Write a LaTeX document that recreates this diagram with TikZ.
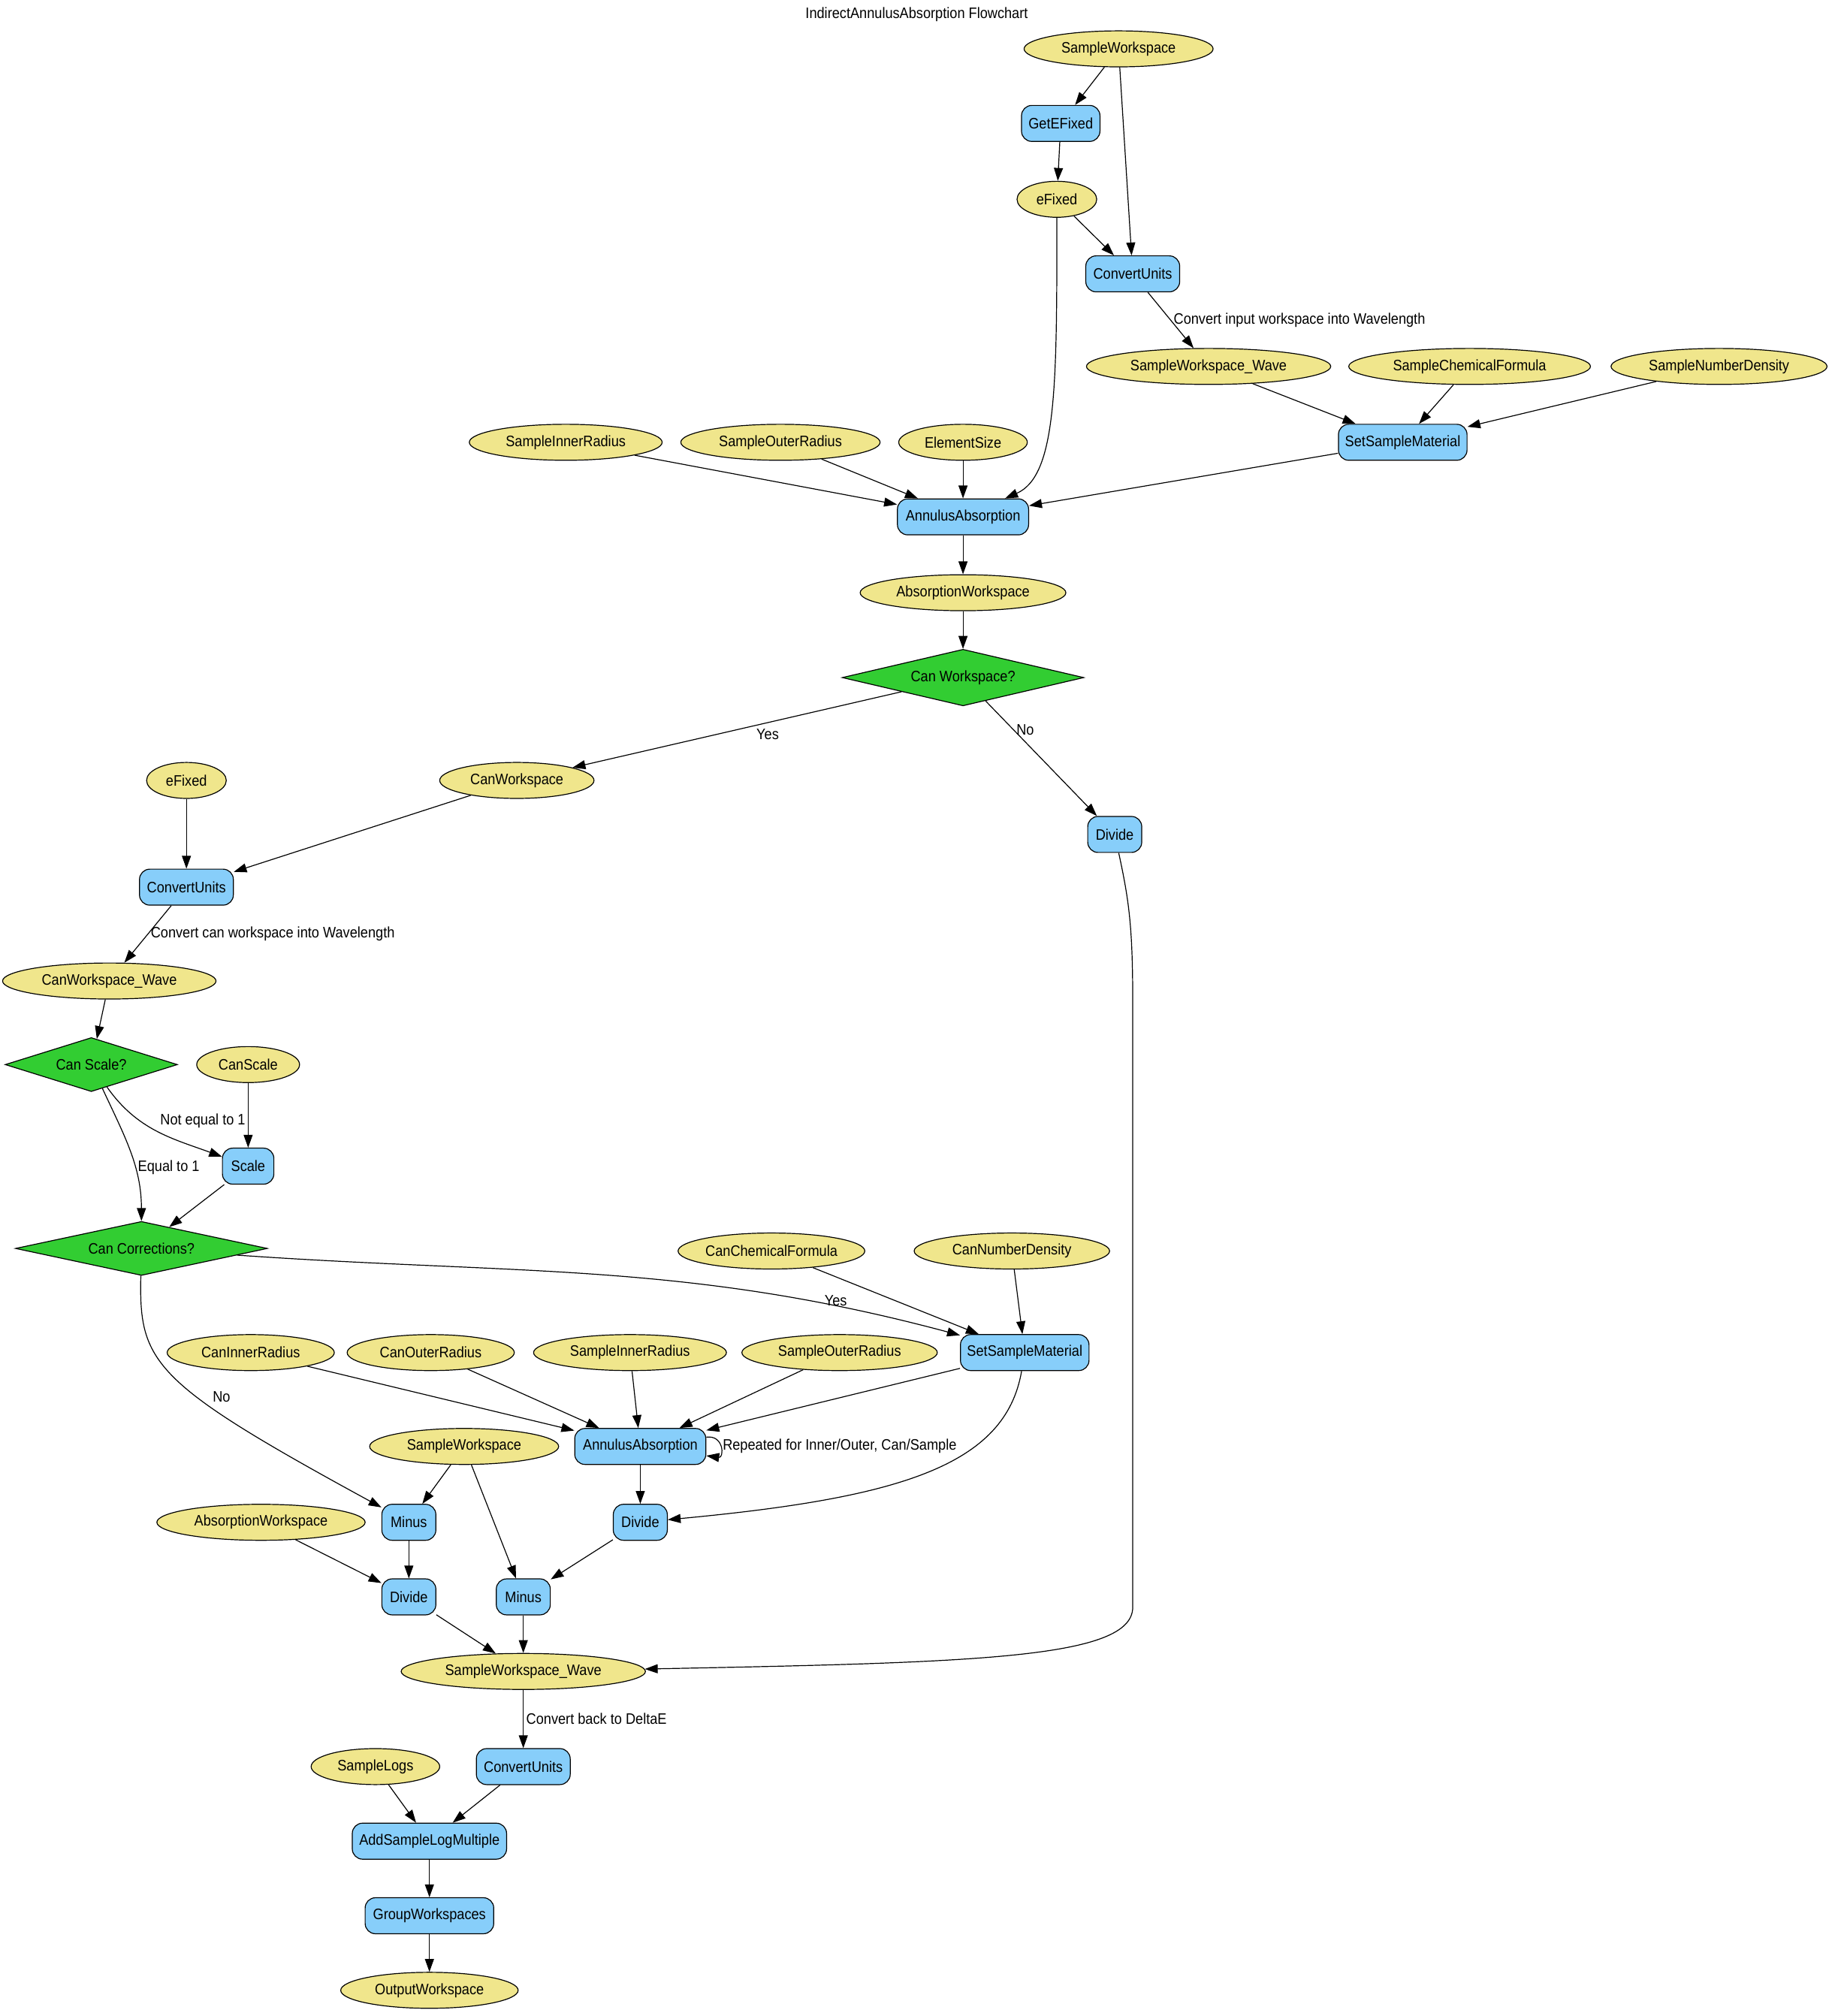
\documentclass[tikz,border=0pt]{standalone}
\usepackage{fontspec}
\setmainfont{Liberation Sans}[FakeStretch=0.9]
\usepackage{xcolor}
\usepackage{tikz}
\usetikzlibrary{arrows.meta,shapes.geometric}

\definecolor{propyellow}{HTML}{F0E68C}
\definecolor{algblue}{HTML}{87CEFA}
\definecolor{decgreen}{HTML}{32CD32}

\begin{document}
\begin{tikzpicture}
[x = 1pt, y = 1pt,
 every node/.style = {font = \fontsize{11.8}{13}\selectfont},
 prop/.style = {ellipse, draw, fill = propyellow, minimum height = 28pt, inner sep = 0pt},
 alg/.style = {rectangle, rounded corners = 8pt, draw, fill = algblue, minimum height = 28pt, inner sep = 0pt},
 decision/.style = {diamond, draw, fill = decgreen, inner sep = 0pt, aspect = 4},
 lbl/.style = {inner sep = 2pt},
 every path/.style = {line width = 0.7pt},
 >={Triangle[length = 10pt, width = 7pt]}]

\useasboundingbox (0,0) rectangle (1427,-1568);

\node (T) at (713,-11) {IndirectAnnulusAbsorption Flowchart};

\node[prop, minimum width = 147pt] (SW1) at (870,-38) {SampleWorkspace};
\node[alg, minimum width = 61pt] (GEF) at (825,-96) {GetEFixed};
\node[prop, minimum width = 62pt] (EF1) at (822,-155) {eFixed};
\node[alg, minimum width = 73pt] (CU1) at (881,-213) {ConvertUnits};
\node[prop, minimum width = 190pt] (SWW1) at (940,-285) {SampleWorkspace\_Wave};
\node[prop, minimum width = 188pt] (SCF) at (1143,-285) {SampleChemicalFormula};
\node[prop, minimum width = 168pt] (SND) at (1337,-285) {SampleNumberDensity};
\node[alg, minimum width = 100pt] (SSM1) at (1091,-344) {SetSampleMaterial};
\node[prop, minimum width = 150pt] (SIR1) at (440,-344) {SampleInnerRadius};
\node[prop, minimum width = 155pt] (SOR1) at (607,-344) {SampleOuterRadius};
\node[prop, minimum width = 100pt] (ES) at (749,-344) {ElementSize};
\node[alg, minimum width = 102pt] (AA1) at (749,-402) {AnnulusAbsorption};
\node[prop, minimum width = 160pt] (ABS1) at (749,-461) {AbsorptionWorkspace};
\node[decision, minimum width = 188pt, minimum height = 44pt] (CWQ) at (749,-527) {Can Workspace?};
\node[prop, minimum width = 120pt] (CW) at (402,-607) {CanWorkspace};
\node[alg, minimum width = 42pt] (DIV1) at (867,-649) {Divide};
\node[prop, minimum width = 62pt] (EF2) at (145,-607) {eFixed};
\node[alg, minimum width = 73pt] (CU2) at (145,-690) {ConvertUnits};
\node[prop, minimum width = 166pt] (CWW) at (85,-763) {CanWorkspace\_Wave};
\node[decision, minimum width = 134pt, minimum height = 42pt] (CSQ) at (71,-828) {Can Scale?};
\node[prop, minimum width = 80pt] (CS) at (193,-828) {CanScale};
\node[alg, minimum width = 40pt] (SC) at (193,-907) {Scale};
\node[decision, minimum width = 196pt, minimum height = 42pt] (CCQ) at (110,-971) {Can Corrections?};
\node[prop, minimum width = 132pt] (CCF) at (600,-973) {CanChemicalFormula};
\node[prop, minimum width = 152pt] (CND) at (787,-973) {CanNumberDensity};
\node[alg, minimum width = 100pt] (SSM2) at (797,-1052) {SetSampleMaterial};
\node[prop, minimum width = 130pt] (CIR) at (195,-1052) {CanInnerRadius};
\node[prop, minimum width = 130pt] (COR) at (335,-1052) {CanOuterRadius};
\node[prop, minimum width = 150pt] (SIR2) at (490,-1052) {SampleInnerRadius};
\node[prop, minimum width = 152pt] (SOR2) at (653,-1052) {SampleOuterRadius};
\node[alg, minimum width = 102pt] (AA2) at (498,-1125) {AnnulusAbsorption};
\node[prop, minimum width = 147pt] (SW2) at (361,-1125) {SampleWorkspace};
\node[alg, minimum width = 42pt] (MIN1) at (318,-1184) {Minus};
\node[alg, minimum width = 42pt] (DIV2) at (498,-1184) {Divide};
\node[prop, minimum width = 162pt] (ABS2) at (203,-1184) {AbsorptionWorkspace};
\node[alg, minimum width = 42pt] (DIV3) at (318,-1242) {Divide};
\node[alg, minimum width = 42pt] (MIN2) at (407,-1242) {Minus};
\node[prop, minimum width = 190pt] (SWW2) at (407,-1300) {SampleWorkspace\_Wave};
\node[alg, minimum width = 73pt] (CU3) at (407,-1374) {ConvertUnits};
\node[prop, minimum width = 100pt] (SL) at (292,-1374) {SampleLogs};
\node[alg, minimum width = 120pt] (ASL) at (334,-1432) {AddSampleLogMultiple};
\node[alg, minimum width = 100pt] (GW) at (334,-1490) {GroupWorkspaces};
\node[prop, minimum width = 138pt] (OUT) at (334,-1548) {OutputWorkspace};

\draw[->] (SW1) -- (GEF);
\draw[->] (SW1) -- (CU1);
\draw[->] (GEF) -- (EF1);
\draw[->] (EF1) -- (CU1);
\draw[->] (EF1) .. controls (822,-300) and (822,-370) .. (AA1);
\draw[->] (CU1) -- node[lbl, right] {Convert input workspace into Wavelength} (SWW1);
\draw[->] (SWW1) -- (SSM1);
\draw[->] (SCF) -- (SSM1);
\draw[->] (SND) -- (SSM1);
\draw[->] (SIR1) -- (AA1);
\draw[->] (SOR1) -- (AA1);
\draw[->] (ES) -- (AA1);
\draw[->] (SSM1) -- (AA1);
\draw[->] (AA1) -- (ABS1);
\draw[->] (ABS1) -- (CWQ);
\draw[->] (CWQ) -- node[lbl, pos = 0.45, anchor = north west] {Yes} (CW);
\draw[->] (CWQ) -- node[lbl, pos = 0.25, right] {No} (DIV1);
\draw[->] (EF2) -- (CU2);
\draw[->] (CW) -- (CU2);
\draw[->] (CU2) -- node[lbl, right] {Convert can workspace into Wavelength} (CWW);
\draw[->] (CWW) -- (CSQ);
\draw[->] (CSQ) to[out = -55, in = 160] node[lbl, pos = 0.5, above right] {Not equal to 1} (SC);
\draw[->] (CSQ) to[out = -65, in = 90] node[lbl, pos = 0.62, right] {Equal to 1} (CCQ);
\draw[->] (CS) -- (SC);
\draw[->] (SC) -- (CCQ);
\draw[->] (CCQ) to[out = -4, in = 165] node[lbl, pos = 0.84, above = -2pt] {Yes} (SSM2);
\draw[->] (CCQ) .. controls (108,-1060) and (118,-1075) .. node[lbl, pos = 0.6, right = 10pt] {No} (MIN1);
\draw[->] (CCF) -- (SSM2);
\draw[->] (CND) -- (SSM2);
\draw[->] (CIR) -- (AA2);
\draw[->] (COR) -- (AA2);
\draw[->] (SIR2) -- (AA2);
\draw[->] (SOR2) -- (AA2);
\draw[->] (SSM2) -- (AA2);
\draw[->] (AA2) to[out = 8, in = -8, looseness = 2.5] node[lbl, right] {Repeated for Inner/Outer, Can/Sample} (AA2);
\draw[->] (AA2) -- (DIV2);
\draw[->] (SSM2) .. controls (782,-1140) and (700,-1165) .. (DIV2);
\draw[->] (SW2) -- (MIN1);
\draw[->] (SW2) -- (MIN2);
\draw[->] (MIN1) -- (DIV3);
\draw[->] (ABS2) -- (DIV3);
\draw[->] (DIV2) -- (MIN2);
\draw[->] (DIV3) -- (SWW2);
\draw[->] (MIN2) -- (SWW2);
\draw[->] (DIV1) .. controls (878,-700) and (881,-720) .. (881,-780) -- (881,-1250)
  .. controls (881,-1290) and (760,-1293) .. (SWW2);
\draw[->] (SWW2) -- node[lbl, right] {Convert back to DeltaE} (CU3);
\draw[->] (SL) -- (ASL);
\draw[->] (CU3) -- (ASL);
\draw[->] (ASL) -- (GW);
\draw[->] (GW) -- (OUT);

\end{tikzpicture}
\end{document}
